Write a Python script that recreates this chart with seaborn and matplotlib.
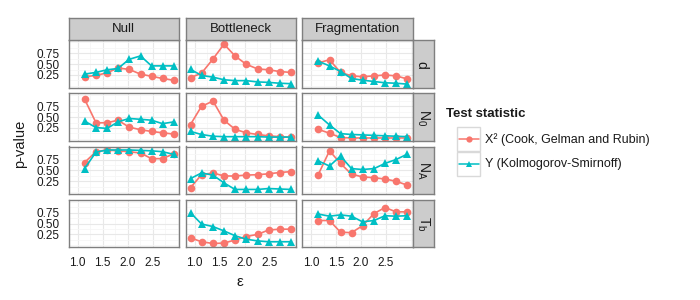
import pandas as pd
import seaborn as sns
import matplotlib.pyplot as plt
from matplotlib.patches import Rectangle
from matplotlib.lines import Line2D

# epsilon grid (Bottleneck has one extra, lower value)
eps_long = [0.92, 1.14, 1.37, 1.59, 1.81, 2.03, 2.26, 2.48, 2.70, 2.92]
eps_short = [1.14, 1.37, 1.59, 1.81, 2.03, 2.26, 2.48, 2.70, 2.92]

scenarios = ["Null", "Bottleneck", "Fragmentation"]
params = ["d", "N0", "NA", "Tb"]
param_labels = [r"$d$", r"$N_0$", r"$N_A$", r"$T_b$"]
stats = ["X² (Cook, Gelman and Rubin)", "Y (Kolmogorov-Smirnoff)"]
colors = ["#F8766D", "#00BFC4"]

# Null
null_d_x2 = [0.21, 0.24, 0.30, 0.41, 0.38, 0.27, 0.22, 0.17, 0.13]
null_d_ks = [0.27, 0.31, 0.37, 0.40, 0.61, 0.69, 0.46, 0.46, 0.46]
null_n0_x2 = [0.92, 0.37, 0.37, 0.43, 0.27, 0.21, 0.17, 0.14, 0.11]
null_n0_ks = [0.41, 0.26, 0.24, 0.39, 0.47, 0.45, 0.43, 0.35, 0.39]
null_na_x2 = [0.68, 0.93, 0.97, 0.95, 0.93, 0.90, 0.77, 0.77, 0.88]
null_na_ks = [0.54, 0.92, 0.97, 0.97, 0.97, 0.96, 0.95, 0.93, 0.87]
null_tb_x2 = []
null_tb_ks = []

# Bottleneck
bott_d_x2 = [0.19, 0.29, 0.62, 0.96, 0.69, 0.50, 0.39, 0.37, 0.33, 0.31]
bott_d_ks = [0.38, 0.24, 0.20, 0.14, 0.12, 0.12, 0.09, 0.08, 0.06, 0.05]
bott_n0_x2 = [0.33, 0.75, 0.87, 0.43, 0.22, 0.14, 0.10, 0.07, 0.05, 0.04]
bott_n0_ks = [0.17, 0.10, 0.06, 0.05, 0.05, 0.05, 0.05, 0.04, 0.04, 0.04]
bott_na_x2 = [0.10, 0.40, 0.44, 0.37, 0.37, 0.39, 0.40, 0.42, 0.45, 0.47]
bott_na_ks = [0.31, 0.44, 0.39, 0.21, 0.06, 0.06, 0.06, 0.08, 0.07, 0.06]
bott_tb_x2 = [0.17, 0.08, 0.04, 0.05, 0.12, 0.20, 0.25, 0.35, 0.37, 0.37]
bott_tb_ks = [0.75, 0.49, 0.43, 0.33, 0.22, 0.14, 0.10, 0.08, 0.08, 0.08]

# Fragmentation
frag_d_x2 = [0.53, 0.60, 0.31, 0.23, 0.21, 0.23, 0.25, 0.23, 0.16]
frag_d_ks = [0.57, 0.46, 0.33, 0.17, 0.13, 0.10, 0.07, 0.06, 0.04]
frag_n0_x2 = [0.22, 0.13, 0.03, 0.02, 0.02, 0.02, 0.02, 0.02, 0.02]
frag_n0_ks = [0.55, 0.32, 0.12, 0.10, 0.09, 0.08, 0.07, 0.06, 0.05]
frag_na_x2 = [0.39, 0.95, 0.66, 0.41, 0.35, 0.33, 0.30, 0.25, 0.16]
frag_na_ks = [0.72, 0.60, 0.83, 0.54, 0.52, 0.54, 0.66, 0.75, 0.87]
frag_tb_x2 = [0.57, 0.57, 0.30, 0.29, 0.45, 0.73, 0.87, 0.77, 0.77]
frag_tb_ks = [0.72, 0.67, 0.70, 0.67, 0.54, 0.57, 0.68, 0.67, 0.68]

series = {
    ("Null", "d"): (eps_short, null_d_x2, null_d_ks),
    ("Null", "N0"): (eps_short, null_n0_x2, null_n0_ks),
    ("Null", "NA"): (eps_short, null_na_x2, null_na_ks),
    ("Null", "Tb"): (eps_short, null_tb_x2, null_tb_ks),
    ("Bottleneck", "d"): (eps_long, bott_d_x2, bott_d_ks),
    ("Bottleneck", "N0"): (eps_long, bott_n0_x2, bott_n0_ks),
    ("Bottleneck", "NA"): (eps_long, bott_na_x2, bott_na_ks),
    ("Bottleneck", "Tb"): (eps_long, bott_tb_x2, bott_tb_ks),
    ("Fragmentation", "d"): (eps_short, frag_d_x2, frag_d_ks),
    ("Fragmentation", "N0"): (eps_short, frag_n0_x2, frag_n0_ks),
    ("Fragmentation", "NA"): (eps_short, frag_na_x2, frag_na_ks),
    ("Fragmentation", "Tb"): (eps_short, frag_tb_x2, frag_tb_ks),
}

rows = []
for (scen, par), (xs, x2, ks) in series.items():
    for stat, vals in zip(stats, [x2, ks]):
        for e, v in zip(xs, vals):
            rows.append({"scenario": scen, "param": par, "stat": stat, "eps": e, "p": v})
df = pd.DataFrame(rows)

sns.set_theme(style="white")
plt.rcParams["font.family"] = ["Liberation Sans", "DejaVu Sans"]
plt.rcParams["mathtext.default"] = "regular"

W, H = 700, 300
fig = plt.figure(figsize=(7, 3), dpi=100)


def fbox(x0, y0, x1, y1):
    return [x0 / W, 1 - y1 / H, (x1 - x0) / W, (y1 - y0) / H]


col_x = [(68.5, 179.0), (185.5, 296.0), (302.0, 412.5)]
row_y = [(40.3, 88.0), (93.3, 141.0), (146.5, 194.2), (199.7, 247.4)]
grey50 = "#7F7F7F"
txt = "#1A1A1A"

for j, scen in enumerate(scenarios):
    for i, par in enumerate(params):
        x0, x1 = col_x[j]
        y0, y1 = row_y[i]
        ax = fig.add_axes(fbox(x0, y0, x1, y1))
        sub = df[(df.scenario == scen) & (df.param == par)]
        if len(sub):
            sns.lineplot(data=sub, x="eps", y="p", hue="stat", style="stat",
                         hue_order=stats, style_order=stats, palette=colors,
                         markers=["o", "^"], dashes=False, markersize=5.5,
                         markeredgewidth=0, linewidth=1.2, errorbar=None,
                         legend=False, ax=ax)
        ax.set_xlim(0.82, 3.03)
        ax.set_ylim(-0.05, 1.05)
        ax.set_xticks([1.0, 1.5, 2.0, 2.5])
        ax.set_xticks([1.25, 1.75, 2.25, 2.75, 3.0], minor=True)
        ax.set_yticks([0.25, 0.5, 0.75])
        ax.set_yticks([0.0, 0.125, 0.375, 0.625, 0.875, 1.0], minor=True)
        ax.grid(which="major", color="#E8E8E8", linewidth=0.8)
        ax.grid(which="minor", color="#F6F6F6", linewidth=0.6)
        ax.set_axisbelow(True)
        ax.set_xlabel("")
        ax.set_ylabel("")
        for s in ax.spines.values():
            s.set_color(grey50)
            s.set_linewidth(1.0)
        ax.tick_params(which="minor", length=0)
        ax.tick_params(which="major", length=4.0, width=0.7, color="#333333",
                       labelsize=8.5, labelcolor=txt, pad=2.7)
        if i != len(params) - 1:
            ax.tick_params(axis="x", length=0, labelbottom=False)
        if j != 0:
            ax.tick_params(axis="y", length=0, labelleft=False)
        else:
            ax.set_yticklabels(["0.25", "0.50", "0.75"])

        # top strips
        if i == 0:
            sax = fig.add_axes(fbox(x0, 17.5, x1, y0))
            sax.set_facecolor("#CCCCCC")
            sax.set_xticks([])
            sax.set_yticks([])
            for s in sax.spines.values():
                s.set_color(grey50)
                s.set_linewidth(1.0)
            sax.text(0.5, 0.5, scen, ha="center", va="center", fontsize=9.5,
                     color=txt, transform=sax.transAxes)
        # right strips
        if j == len(scenarios) - 1:
            sax = fig.add_axes(fbox(x1, y0, 433.5, y1))
            sax.set_facecolor("#CCCCCC")
            sax.set_xticks([])
            sax.set_yticks([])
            for s in sax.spines.values():
                s.set_color(grey50)
                s.set_linewidth(1.0)
            sax.text(0.5, 0.5, param_labels[i], ha="center", va="center",
                     fontsize=10, rotation=-90, color=txt, transform=sax.transAxes)

# axis titles
fig.text(20 / W, 1 - 144 / H, "p-value", rotation=90, ha="center", va="center",
         fontsize=10.5, color=txt)
fig.text(240 / W, 1 - 282 / H, "ε", ha="center", va="center", fontsize=11, color=txt)

# legend
fig.text(446 / W, 1 - 114 / H, "Test statistic", ha="left", va="center",
         fontsize=9.5, fontweight="bold", color=txt)
for k, (stat, col, mk) in enumerate(zip(stats, colors, ["o", "^"])):
    ky0 = 127.5 + k * 24.5
    ky1 = ky0 + 23.5
    fig.patches.append(Rectangle((457 / W, 1 - ky1 / H), 23 / W, 23.5 / H,
                                 transform=fig.transFigure, facecolor="white",
                                 edgecolor="#D9D9D9", linewidth=1.0))
    yc = 1 - (ky0 + ky1) / 2 / H
    fig.lines.append(Line2D([458.5 / W, 478.5 / W], [yc, yc], color=col,
                            linewidth=1.1, transform=fig.transFigure))
    fig.lines.append(Line2D([468.5 / W], [yc], color=col, marker=mk,
                            markersize=4.5, markeredgewidth=0,
                            transform=fig.transFigure))
    fig.text(485 / W, yc, stat, ha="left", va="center", fontsize=9, color=txt)

fig.savefig("out.png", dpi=100)
